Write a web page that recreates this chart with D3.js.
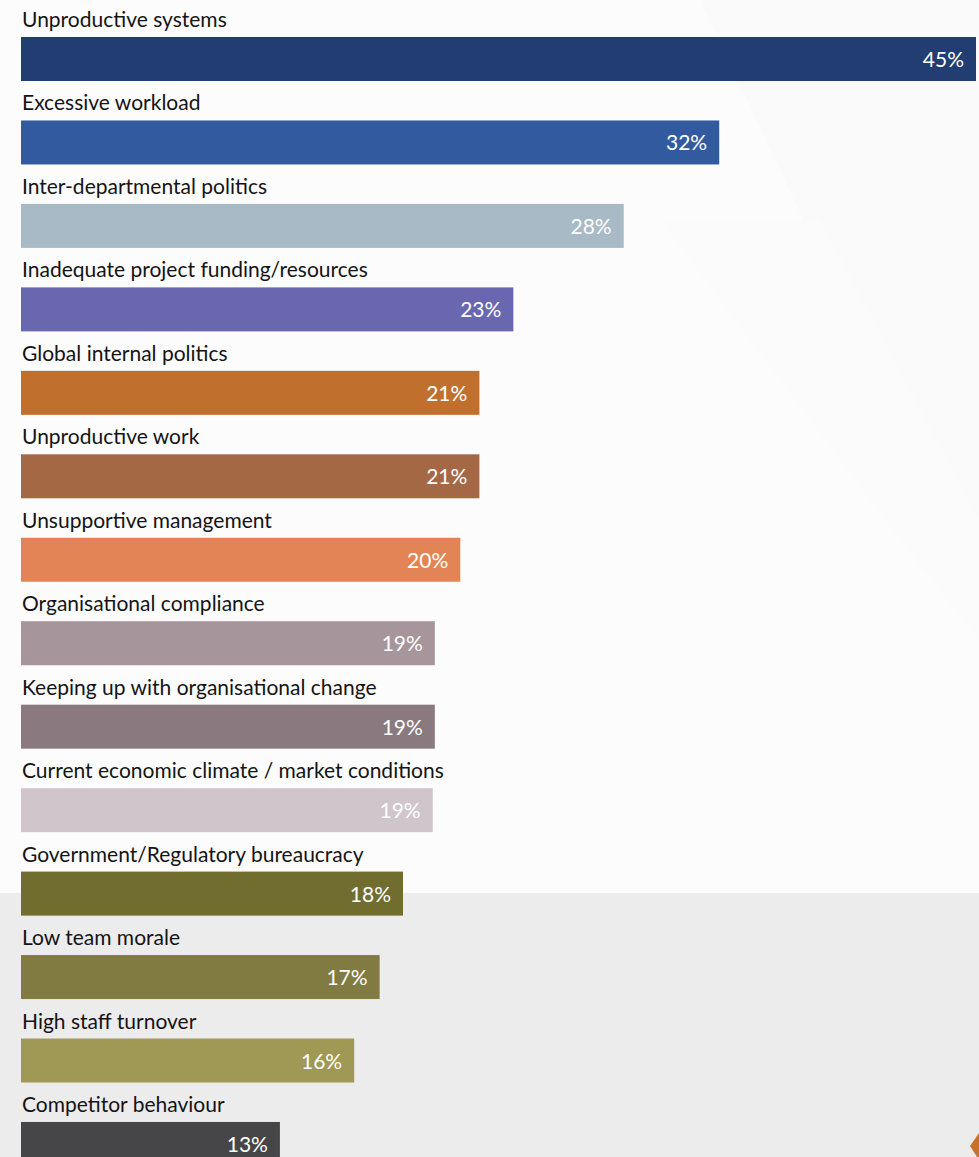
<!DOCTYPE html>
<html>
<head>
<meta charset="utf-8">
<script src="https://cdn.jsdelivr.net/npm/d3@7"></script>
<style>
  body { margin: 0; background: #fcfcfc; }
  svg { display: block; }
</style>
</head>
<body>
<div id="chart"></div>
<script>
// categories, top to bottom
var categories = [
  "Unproductive systems",
  "Excessive workload",
  "Inter-departmental politics",
  "Inadequate project funding/resources",
  "Global internal politics",
  "Unproductive work",
  "Unsupportive management",
  "Organisational compliance",
  "Keeping up with organisational change",
  "Current economic climate / market conditions",
  "Government/Regulatory bureaucracy",
  "Low team morale",
  "High staff turnover",
  "Competitor behaviour"
];
// bar lengths as drawn in the picture (%)
var values = [45, 32.9, 28.4, 23.2, 21.6, 21.6, 20.7, 19.5, 19.5, 19.4, 18.0, 16.9, 15.7, 12.2];
// printed value labels
var pctLabels = ["45%", "32%", "28%", "23%", "21%", "21%", "20%", "19%", "19%", "19%", "18%", "17%", "16%", "13%"];
var colors = ["#223d71", "#325b9f", "#a7bac6", "#6867b0", "#c0702c", "#a46844", "#e28455",
  "#a6959b", "#8a7a80", "#cfc5ca", "#706d2f", "#817b42", "#a09855", "#464648"];

var W = 979, H = 1157;
var step = 83.46, barH = 44, top0 = 37;

var svg = d3.select("#chart")
  .append("svg")
  .attr("width", W)
  .attr("height", H);

// background: light top, grey band at the bottom
svg.append("rect").attr("width", W).attr("height", H).attr("fill", "#fcfcfc");
svg.append("rect").attr("y", 893).attr("width", W).attr("height", H - 893).attr("fill", "#ececec");

// very faint background shapes
svg.append("path")
  .attr("d", "M700,0 L979,0 L979,560 L860,340 Z")
  .attr("fill", "#fafafa");
svg.append("path")
  .attr("d", "M660,220 L820,220 L979,520 L979,640 L900,540 Z")
  .attr("fill", "#fbfbfb");

var x = d3.scaleLinear()
  .domain([0, 45])
  .range([21, 976]);

// band scale: step 83.46, bar height 44, first bar top at 37
var y = d3.scaleBand()
  .domain(categories)
  .range([top0, top0 + step * (categories.length - 1) + barH])
  .paddingInner(1 - barH / step)
  .paddingOuter(0);

var rows = svg.append("g")
  .selectAll("g")
  .data(categories)
  .join("g");

rows.append("rect")
  .attr("x", x(0))
  .attr("y", function (d) { return y(d); })
  .attr("width", function (d, i) { return x(values[i]) - x(0); })
  .attr("height", y.bandwidth())
  .attr("fill", function (d, i) { return colors[i]; });

rows.append("text")
  .attr("x", x(0) + 1)
  .attr("y", function (d) { return y(d) - 10; })
  .attr("font-family", "Lato, 'Noto Sans', sans-serif")
  .attr("font-size", 21)
  .attr("fill", "#141414")
  .text(function (d) { return d; });

rows.append("text")
  .attr("x", function (d, i) { return x(values[i]) - 12; })
  .attr("y", function (d) { return y(d) + y.bandwidth() / 2 + 8; })
  .attr("text-anchor", "end")
  .attr("font-family", "Lato, 'Noto Sans', sans-serif")
  .attr("font-size", 21)
  .attr("fill", "#ffffff")
  .text(function (d, i) { return pctLabels[i]; });

// orange corner mark
svg.append("path")
  .attr("d", "M979,1133 L970,1146 L979,1160 Z")
  .attr("fill", "#c8712b");
</script>
</body>
</html>
